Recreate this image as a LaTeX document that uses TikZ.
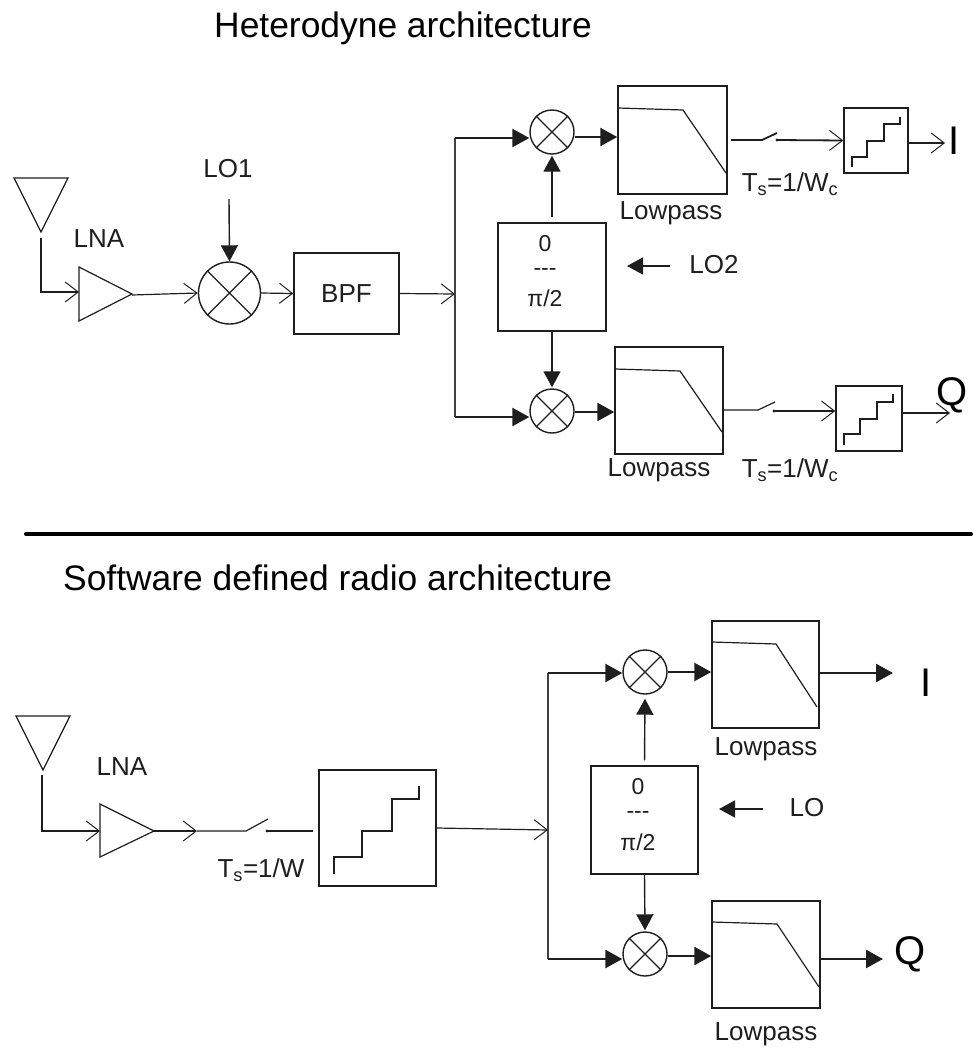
\documentclass[tikz,border=0pt]{standalone}
\usepackage{fontspec}
\setmainfont{Liberation Sans}
\usetikzlibrary{arrows.meta,positioning}
\definecolor{ink}{HTML}{1E1E1E}
\newcommand{\fs}[1]{\fontsize{#1}{#1}\selectfont}
\tikzset{
  x=1pt,y=-1pt,
  wire/.style={draw=ink,line width=1.2pt},
  thinarrow/.style={wire,-{Straight Barb[length=13pt,width=20pt,line width=1pt]}},
  boldarrow/.style={draw=ink,line width=2.6pt,-{Triangle[length=17pt,width=18pt]}},
  filledarrow/.style={draw=ink,line width=1.4pt,-{Triangle[length=16pt,width=17pt]}},
  buswire/.style={draw=ink!85!white,line width=2.6pt},
  blockbox/.style={draw=ink,line width=1.5pt,rectangle,inner sep=0pt,fill=white},
  mixer/.style={draw=ink,line width=1.4pt,circle,inner sep=0pt,fill=white},
  lab/.style={text=ink,inner sep=0pt,font=\fs{26}},
  small/.style={text=ink,inner sep=0pt,font=\fs{23}},
  big/.style={text=black,inner sep=0pt,font=\fs{40}},
  heading/.style={text=black,inner sep=0pt,anchor=base west,font=\fs{35.4}},
}
\newcommand{\cross}[1]{\draw[wire] (#1.45)--(#1.225) (#1.135)--(#1.-45);}
\begin{document}
\begin{tikzpicture}
\useasboundingbox (0,0) rectangle (973,1050);
% ---------- headings and separator
\node[heading] (h1) at (214,37) {Heterodyne architecture};
\node[heading] (h2) at (63,590) {Software defined radio architecture};
\coordinate (sepL) at (26,534); \coordinate (sepR) at (971,534);
\draw[draw=black,line width=4pt,line cap=round] (sepL)--(sepR);

% ---------- top: front end
\draw[wire] (14,178)--(68,178)--(41,232)--cycle;
\coordinate (ant1) at (41,238);
\draw[wire] (79,267)--(79,321)--(132,294)--cycle;
\coordinate (amp1i) at (79,292); \coordinate (amp1o) at (132,295);
\node[lab] (lna1) at (99,239) {LNA};
\node[mixer,minimum size=62pt] (mx1) at (229.5,293) {}; \cross{mx1}
\node[lab] (lo1) at (228,169) {LO1};
\coordinate (lo1s) at (229,199);
\node[blockbox,minimum width=105pt,minimum height=81pt,font=\fs{26},text=ink] (bpf) at (346.5,293.5) {BPF};
\coordinate (bus1) at (455,294);
\coordinate (bus1t) at (455,138); \coordinate (bus1b) at (455,417);
\draw[thinarrow] (ant1)--(41,292)--(amp1i);
\draw[thinarrow] (amp1o)--(mx1.west);
\draw[filledarrow] (lo1s)--(mx1.north);
\draw[thinarrow] (mx1.east)--(bpf.west);
\draw[thinarrow] (bpf.east)--(bus1);

% ---------- top: I/Q mixers
\node[mixer,minimum size=44pt] (mx2) at (552,132) {}; \cross{mx2}
\node[mixer,minimum size=44pt] (mx3) at (552,411) {}; \cross{mx3}
\node[blockbox,minimum width=108pt,minimum height=108pt] (ph1) at (552,277) {};
\node[small] (ph1a) at (545,244) {0};
\node[small] (ph1b) at (545,272) {-{}-{}-};
\node[small] (ph1c) at (545,298) {π/2};
\node[lab] (lo2) at (714,265) {LO2};
\coordinate (lo2s) at (670,266); \coordinate (lo2e) at (627,266);
\draw[buswire] (bus1t)--(bus1b);
\draw[boldarrow] (bus1t)--(bus1t -| mx2.west);
\draw[boldarrow] (bus1b)--(bus1b -| mx3.west);
\draw[filledarrow,shorten <=5pt,shorten >=1pt] (ph1.north)--(mx2.south);
\draw[filledarrow,shorten >=1pt] (ph1.south)--(mx3.north);
\draw[filledarrow] (lo2s)--(lo2e);

% ---------- top: I branch
\node[blockbox,minimum width=109pt,minimum height=108pt] (lp1) at (672.5,140) {};
\draw[wire] (618,108)--(683,110)--(726,173);
\node[lab] (lp1t) at (671,213) {Lowpass};
\draw[boldarrow] ([yshift=-5pt]mx2.east) coordinate (o2)--(o2 -| lp1.west);
\coordinate (sw1a) at (731,140); \coordinate (sw1b) at (777,140);
\draw[wire,line width=1.8pt] (sw1a)--(762,140)--(777,133);
\fill[ink] (sw1b) circle (1.6);
\node[blockbox,minimum width=64pt,minimum height=65pt] (ad1) at (876,140.5) {};
\draw[wire,line width=1.5pt] (852,167)--(852,157)--(867,157)--(867,141)--(884,141)--(884,124)--(900,124)--(900,117);
\draw[thinarrow,line width=1.8pt] (sw1b)--(ad1.west);
\node[lab] (ts1) at (790,184) {T\textsubscript{s}=1/W\textsubscript{c}};
\node[big] (iout1) at (954,141) {I};
\coordinate (iarr1) at (945,143);
\draw[thinarrow] (ad1.east |- iarr1)--(iarr1);

% ---------- top: Q branch
\node[blockbox,minimum width=108pt,minimum height=107pt] (lp2) at (669,400.5) {};
\draw[wire] (615,369)--(680,371)--(722,432);
\node[lab] (lp2t) at (659,470) {Lowpass};
\draw[boldarrow] ([yshift=-1pt]mx3.east) coordinate (o3)--(o3 -| lp2.west);
\coordinate (sw2a) at (723,410); \coordinate (sw2b) at (774,411);
\draw[wire] (sw2a)--(758,410)--(775,402);
\fill[ink] (sw2b) circle (1.6);
\node[blockbox,minimum width=66pt,minimum height=65pt] (ad2) at (869,418.5) {};
\draw[wire,line width=1.5pt] (844,445)--(844,434)--(860,434)--(860,419)--(877,419)--(877,402)--(893,402)--(893,394);
\draw[thinarrow] (sw2b)--(sw2b -| ad2.west);
\node[lab] (ts2) at (790,470) {T\textsubscript{s}=1/W\textsubscript{c}};
\coordinate (qout1) at (950,413);
\draw[thinarrow] (ad2.east |- qout1)--(qout1);
\node[big] (qlab1) at (952,395) {Q};

% ---------- bottom: front end
\draw[wire] (16,716)--(70,716)--(43,770)--cycle;
\coordinate (ant2) at (42,775);
\draw[wire] (100,804)--(100,857)--(154,831)--cycle;
\coordinate (amp2i) at (100,831); \coordinate (amp2o) at (154,831);
\node[lab] (lna2) at (122,767) {LNA};
\coordinate (sw3a) at (197,831); \coordinate (sw3b) at (267,831);
\draw[thinarrow] (ant2)--(42,831)--(amp2i);
\draw[thinarrow] (amp2o)--(sw3a);
\draw[wire] (sw3a)--(246,831)--(268,819);
\fill[ink] (sw3b) circle (1.6);
\node[blockbox,minimum width=117pt,minimum height=116pt] (ad3) at (377.5,828) {};
\draw[wire,line width=1.5pt] (334,874)--(334,857)--(362,857)--(362,831)--(392,831)--(392,799)--(419,799)--(419,786);
\coordinate (sw3c) at (313,831);
\draw[wire] (sw3b)--(sw3c);
\node[lab] (ts3) at (261,870) {T\textsubscript{s}=1/W};
\coordinate (bus2) at (548,830);
\coordinate (bus2t) at (548,673); \coordinate (bus2b) at (548,959);
\draw[thinarrow] (ad3.east)--(bus2);

% ---------- bottom: I/Q
\draw[buswire] (bus2t)--(bus2b);
\node[mixer,minimum size=44pt] (mx4) at (645,672) {}; \cross{mx4}
\node[mixer,minimum size=44pt] (mx5) at (645,954) {}; \cross{mx5}
\draw[boldarrow] (bus2t)--(bus2t -| mx4.west);
\draw[boldarrow] (bus2b)--(bus2b -| mx5.west);
\node[blockbox,minimum width=107pt,minimum height=108pt] (ph2) at (644.5,820) {};
\node[small] (ph2a) at (638,787) {0};
\node[small] (ph2b) at (638,815) {-{}-{}-};
\node[small] (ph2c) at (638,842) {π/2};
\draw[filledarrow,shorten <=5pt,shorten >=4pt] (ph2.north)--(mx4.south);
\draw[filledarrow,shorten >=1pt] (ph2.south)--(mx5.north);
\node[lab] (lo3) at (807,808) {LO};
\coordinate (lo3s) at (763,809); \coordinate (lo3e) at (719,809);
\draw[filledarrow] (lo3s)--(lo3e);
\node[blockbox,minimum width=107pt,minimum height=107pt] (lp3) at (765.5,674.5) {};
\draw[wire] (712,642)--(776,644)--(817,707);
\node[lab] (lp3t) at (766,749) {Lowpass};
\draw[boldarrow] (mx4.east)--(mx4.east -| lp3.west);
\node[big] (iout2) at (926,683) {I};
\coordinate (iend2) at (893,673);
\draw[boldarrow] (lp3.east |- iend2)--(iend2);
\node[blockbox,minimum width=108pt,minimum height=107pt] (lp4) at (766,954.5) {};
\draw[wire] (712,922)--(777,924)--(819,987);
\node[lab] (lp4t) at (766,1034) {Lowpass};
\draw[boldarrow] ([yshift=-2pt]mx5.east) coordinate (o5)--(o5 -| lp4.west);
\node[big] (qlab2) at (910,954) {Q};
\coordinate (qend2) at (883,959);
\draw[boldarrow] (lp4.east |- qend2)--(qend2);
\end{tikzpicture}
\end{document}
